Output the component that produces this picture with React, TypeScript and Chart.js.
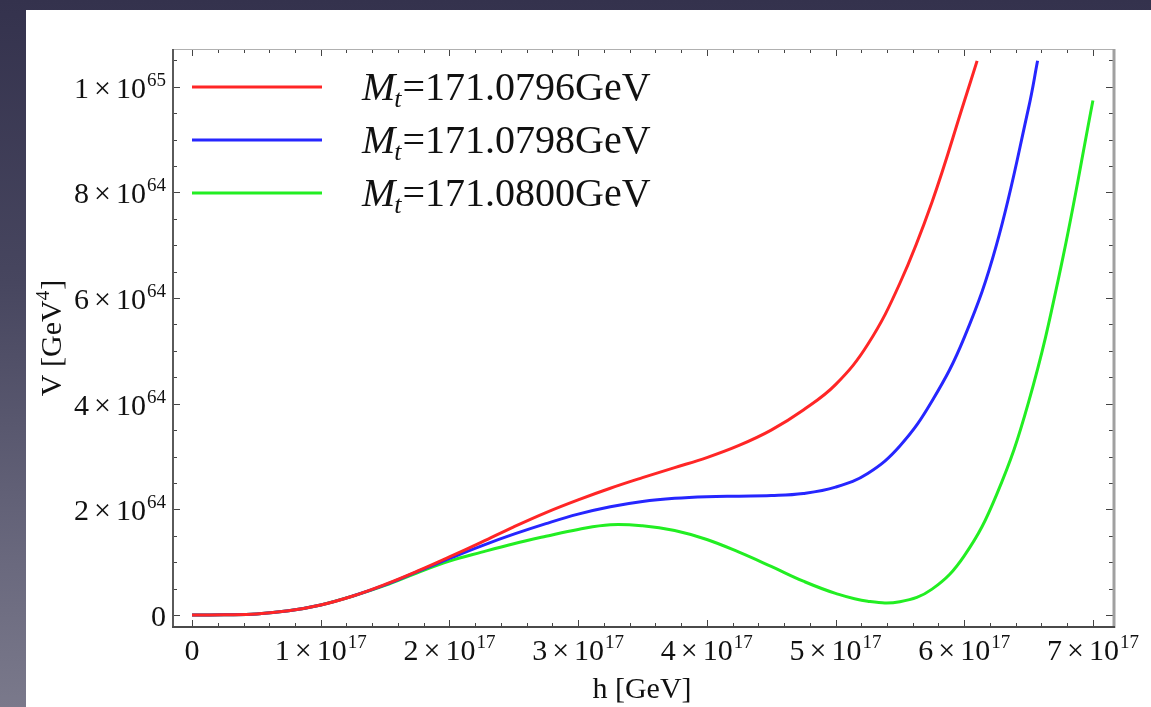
import React, { useEffect, useRef } from "react";
import { Chart, registerables } from "chart.js";

Chart.register(...registerables);

// h in units of 1e17 GeV, V in units of 1e64 GeV^4
const H_UNIT = 1e17;
const V_UNIT = 1e64;

const redH = [0, 0.25, 0.5, 0.75, 1, 1.25, 1.5, 1.75, 2, 2.25, 2.5, 2.75, 3, 3.25, 3.5, 3.75, 4, 4.25, 4.5, 4.75, 5, 5.25, 5.5, 5.75, 6, 6.1];
const redV = [0, 0.005, 0.02, 0.08, 0.19, 0.36, 0.58, 0.83, 1.10, 1.38, 1.67, 1.94, 2.18, 2.40, 2.60, 2.79, 2.98, 3.21, 3.50, 3.88, 4.36, 5.12, 6.28, 7.82, 9.72, 10.49];

const blueH = [0, 0.25, 0.5, 0.75, 1, 1.25, 1.5, 1.75, 2, 2.25, 2.5, 2.75, 3, 3.25, 3.5, 3.75, 4, 4.25, 4.5, 4.75, 5, 5.25, 5.5, 5.75, 6, 6.25, 6.5, 6.57];
const blueV = [0, 0.005, 0.02, 0.08, 0.19, 0.36, 0.57, 0.82, 1.07, 1.31, 1.53, 1.73, 1.91, 2.05, 2.15, 2.21, 2.24, 2.25, 2.26, 2.30, 2.42, 2.68, 3.20, 4.05, 5.25, 7.0, 9.6, 10.49];

const greenH = [0, 0.25, 0.5, 0.75, 1, 1.25, 1.5, 1.75, 2, 2.25, 2.5, 2.75, 3, 3.25, 3.5, 3.75, 4, 4.25, 4.5, 4.75, 5, 5.25, 5.5, 5.75, 6, 6.25, 6.5, 6.75, 7.0];
const greenV = [0, 0.005, 0.02, 0.08, 0.19, 0.36, 0.56, 0.80, 1.02, 1.19, 1.35, 1.49, 1.62, 1.71, 1.69, 1.60, 1.43, 1.19, 0.92, 0.64, 0.41, 0.26, 0.25, 0.49, 1.12, 2.27, 4.03, 6.57, 9.74];

const seriesMasses = ["171.0796", "171.0798", "171.0800"];
const seriesColors = ["#ff2626", "#2626ff", "#22ee22"];

const xMajorTicks = [0, 1, 2, 3, 4, 5, 6, 7]; // x 1e17
const yMajorTicks = [0, 2, 4, 6, 8, 10]; // x 1e64
const xMinorStep = 0.2;
const yMinorStep = 0.5;

const xTitle = "h [GeV]";
const yTitle = "V [GeV";

const FONT = "'Liberation Serif', 'Times New Roman', serif";

function toPoints(hs: number[], vs: number[]) {
  return hs.map((h, i) => ({ x: h * H_UNIT, y: vs[i] * V_UNIT }));
}

function sciParts(v: number, baseExp: number): [string, string] | null {
  if (v === 0) return null;
  let m = v;
  let e = baseExp;
  while (m >= 10) {
    m /= 10;
    e += 1;
  }
  return [String(Math.round(m)), String(e)];
}

function drawSci(
  ctx: CanvasRenderingContext2D,
  v: number,
  baseExp: number,
  x: number,
  baseline: number,
  align: "right" | "center"
) {
  const mainFont = `30px ${FONT}`;
  const supFont = `19px ${FONT}`;
  ctx.textAlign = "left";
  ctx.textBaseline = "alphabetic";
  const parts = sciParts(v, baseExp);
  if (!parts) {
    ctx.font = mainFont;
    const w = ctx.measureText("0").width;
    const x0 = align === "right" ? x - w : x - w / 2;
    ctx.fillText("0", x0, baseline);
    return;
  }
  const [m, e] = parts;
  const gap = 5;
  ctx.font = mainFont;
  const wm = ctx.measureText(m).width;
  const wx = ctx.measureText("×").width;
  const w10 = ctx.measureText("10").width;
  ctx.font = supFont;
  const we = ctx.measureText(e).width;
  const total = wm + gap + wx + gap + w10 + 1 + we;
  let cx = align === "right" ? x - total : x - total / 2;
  ctx.font = mainFont;
  ctx.fillText(m, cx, baseline);
  cx += wm + gap;
  ctx.fillText("×", cx, baseline);
  cx += wx + gap;
  ctx.fillText("10", cx, baseline);
  cx += w10 + 1;
  ctx.font = supFont;
  ctx.fillText(e, cx, baseline - 12);
}

const framePlugin = {
  id: "mmaFrame",
  afterDatasetsDraw(chart: any) {
    const ctx: CanvasRenderingContext2D = chart.ctx;
    const { left, right, top, bottom } = chart.chartArea;
    const xs = chart.scales.x;
    const ys = chart.scales.y;
    ctx.save();

    // ticks
    ctx.strokeStyle = "#444";
    ctx.lineWidth = 1;
    const xMin = xs.min / H_UNIT;
    const xMax = xs.max / H_UNIT;
    for (let k = Math.ceil(xMin / xMinorStep); k * xMinorStep <= xMax; k++) {
      const v = Math.round(k * xMinorStep * 10) / 10;
      const px = Math.round(xs.getPixelForValue(v * H_UNIT)) + 0.5;
      const major = xMajorTicks.includes(v);
      const len = major ? 7 : 4;
      ctx.beginPath();
      ctx.moveTo(px, bottom);
      ctx.lineTo(px, bottom - len);
      ctx.moveTo(px, top);
      ctx.lineTo(px, top + len);
      ctx.stroke();
    }
    const yMin = ys.min / V_UNIT;
    const yMax = ys.max / V_UNIT;
    for (let k = Math.ceil(yMin / yMinorStep); k * yMinorStep <= yMax; k++) {
      const v = k * yMinorStep;
      const py = Math.round(ys.getPixelForValue(v * V_UNIT)) + 0.5;
      const major = yMajorTicks.includes(v);
      const len = major ? 7 : 4;
      ctx.beginPath();
      ctx.moveTo(left, py);
      ctx.lineTo(left + len, py);
      ctx.moveTo(right, py);
      ctx.lineTo(right - len, py);
      ctx.stroke();
    }

    // frame
    ctx.lineCap = "butt";
    ctx.strokeStyle = "#b0b0b0";
    ctx.lineWidth = 1;
    ctx.beginPath();
    ctx.moveTo(left, top + 0.5);
    ctx.lineTo(right, top + 0.5);
    ctx.stroke();
    ctx.strokeStyle = "#a0a0a0";
    ctx.lineWidth = 3;
    ctx.beginPath();
    ctx.moveTo(right + 1, top);
    ctx.lineTo(right + 1, bottom + 1);
    ctx.stroke();
    ctx.strokeStyle = "#5a5a5a";
    ctx.lineWidth = 2;
    ctx.beginPath();
    ctx.moveTo(left, top);
    ctx.lineTo(left, bottom + 1);
    ctx.stroke();
    ctx.strokeStyle = "#4a4a4a";
    ctx.beginPath();
    ctx.moveTo(left - 1, bottom);
    ctx.lineTo(right + 2, bottom);
    ctx.stroke();

    // tick labels
    ctx.fillStyle = "#111";
    for (const v of xMajorTicks) {
      const px = xs.getPixelForValue(v * H_UNIT);
      drawSci(ctx, v, 17, px, bottom + 33, "center");
    }
    for (const v of yMajorTicks) {
      const py = ys.getPixelForValue(v * V_UNIT);
      drawSci(ctx, v, 64, left - 7, py + 11, "right");
    }

    // axis titles
    ctx.font = `30px ${FONT}`;
    ctx.textAlign = "center";
    ctx.textBaseline = "alphabetic";
    ctx.fillText(xTitle, (left + right) / 2 - 1, bottom + 71);

    ctx.save();
    ctx.translate(35, 328);
    ctx.rotate(-Math.PI / 2);
    ctx.textAlign = "left";
    ctx.font = `30px ${FONT}`;
    const w1 = ctx.measureText(yTitle).width;
    ctx.font = `19px ${FONT}`;
    const w2 = ctx.measureText("4").width;
    ctx.font = `30px ${FONT}`;
    const w3 = ctx.measureText("]").width;
    let sx = -(w1 + w2 + w3 + 1) / 2;
    ctx.fillText(yTitle, sx, 0);
    ctx.font = `19px ${FONT}`;
    ctx.fillText("4", sx + w1, -12);
    ctx.font = `30px ${FONT}`;
    ctx.fillText("]", sx + w1 + w2 + 1, 0);
    ctx.restore();

    // legend
    const legendYs = [77, 130, 183];
    for (let i = 0; i < seriesMasses.length; i++) {
      const ly = legendYs[i];
      ctx.strokeStyle = seriesColors[i];
      ctx.lineWidth = 3;
      ctx.beginPath();
      ctx.moveTo(166, ly);
      ctx.lineTo(296, ly);
      ctx.stroke();

      ctx.fillStyle = "#111";
      ctx.textAlign = "left";
      let tx = 336;
      const bl = ly + 13;
      ctx.font = `italic 40px ${FONT}`;
      ctx.fillText("M", tx, bl);
      tx += ctx.measureText("M").width - 1;
      ctx.font = `italic 26px ${FONT}`;
      ctx.fillText("t", tx, bl + 7);
      tx += ctx.measureText("t").width + 1;
      ctx.font = `40px ${FONT}`;
      ctx.fillText("=" + seriesMasses[i] + "GeV", tx, bl);
    }
    ctx.restore();
  },
};

export default function App() {
  const canvasRef = useRef<HTMLCanvasElement | null>(null);

  useEffect(() => {
    if (!canvasRef.current) return;
    const datasets = [
      toPoints(redH, redV),
      toPoints(blueH, blueV),
      toPoints(greenH, greenV),
    ].map((data, i) => ({
      label: "Mt=" + seriesMasses[i] + "GeV",
      data,
      borderColor: seriesColors[i],
      borderWidth: 3,
      pointRadius: 0,
      fill: false,
      tension: 0.4,
    }));

    const chart = new Chart(canvasRef.current, {
      type: "line",
      data: { datasets },
      options: {
        animation: false,
        responsive: false,
        layout: { padding: { left: 147, right: 38, top: 39, bottom: 80 } },
        plugins: {
          legend: { display: false },
          tooltip: { enabled: false },
        },
        scales: {
          x: {
            type: "linear",
            display: false,
            min: -0.148 * H_UNIT,
            max: 7.156 * H_UNIT,
          },
          y: {
            type: "linear",
            display: false,
            min: -0.227 * V_UNIT,
            max: 10.714 * V_UNIT,
          },
        },
      },
      plugins: [framePlugin],
    });
    return () => chart.destroy();
  }, []);

  return (
    <div
      style={{
        position: "fixed",
        left: 0,
        top: 0,
        width: 1151,
        height: 707,
        overflow: "hidden",
        background: "linear-gradient(180deg, #34324d 0%, #47465f 40%, #6a697e 80%, #7a798b 100%)",
      }}
    >
      <div
        style={{
          position: "absolute",
          left: 26,
          top: 10,
          width: 1125,
          height: 697,
          background: "#ffffff",
        }}
      >
        <canvas ref={canvasRef} width={1125} height={697} style={{ display: "block" }} />
      </div>
    </div>
  );
}
